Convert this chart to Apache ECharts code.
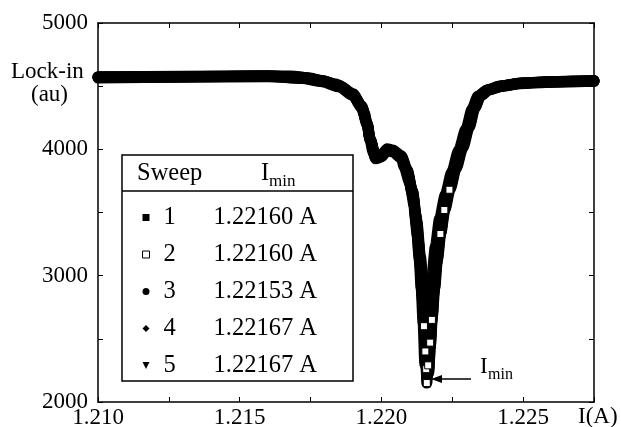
<!DOCTYPE html>
<html>
<head>
<meta charset="utf-8">
<script src="https://cdn.jsdelivr.net/npm/echarts@6/dist/echarts.min.js"></script>
<style>html,body{margin:0;padding:0;background:#fff;}#c{width:621px;height:427px;}</style>
</head>
<body>
<div id="c"></div>
<script>
// Tick ranges
const xMin = 1.210, xMax = 1.2275, xStep = 0.0025;
const yMin = 2000, yMax = 5000, yStep = 500;

// Legend table
const sweepNames = ['1', '2', '3', '4', '5'];
const iminValues = ['1.22160 A', '1.22160 A', '1.22153 A', '1.22167 A', '1.22167 A'];

// Sweep data: [current (A), lock-in (au)]
const sweep1 = [[1.2100,4573],[1.2118,4573],[1.2136,4576],[1.2154,4580],[1.2168,4580],[1.2175,4565],[1.2179,4541],[1.2184,4517],[1.2187,4478],[1.2190,4430],[1.2192,4367],[1.2194,4288],[1.2195,4193],[1.2196,4074],[1.2197,3979],[1.2198,3931],[1.2200,3947],[1.2202,3995],[1.2204,3987],[1.2207,3939],[1.2208,3860],[1.2210,3733],[1.22115,3559],[1.22126,3322],[1.22136,3084],[1.22143,2847],[1.2215,2609],[1.22156,2412],[1.2216,2180],[1.22168,2400],[1.22175,2600],[1.2218,2807],[1.22189,3045],[1.2220,3259],[1.22214,3480],[1.22231,3654],[1.22253,3836],[1.22277,3995],[1.22302,4169],[1.22323,4327],[1.22344,4422],[1.22372,4470],[1.22418,4501],[1.22489,4525],[1.22577,4533],[1.22665,4541],[1.2275,4541]];
const sweep2 = [[1.2100,4570],[1.2130,4575],[1.2160,4580],[1.2172,4570],[1.2179,4545],[1.2185,4505],[1.2190,4435],[1.2193,4340],[1.2195,4200],[1.2196,4080],[1.2198,3940],[1.2200,3950],[1.2202,3998],[1.2204,3990],[1.2207,3945],[1.2209,3830],[1.2211,3650],[1.22122,3480],[1.22132,3250],[1.22140,3000],[1.22146,2780],[1.22150,2600],[1.22155,2400],[1.22158,2260],[1.2216,2150],[1.22165,2290],[1.22172,2470],[1.22178,2650],[1.22186,2880],[1.22195,3100],[1.22208,3330],[1.22222,3520],[1.22240,3680],[1.22262,3850],[1.22285,4010],[1.22308,4180],[1.22328,4330],[1.22348,4425],[1.2238,4475],[1.2243,4505],[1.2250,4528],[1.2260,4535],[1.2275,4545]];
const sweep3 = [[1.2100,4565],[1.2130,4570],[1.2160,4575],[1.2172,4560],[1.2179,4535],[1.2185,4495],[1.2190,4425],[1.2193,4330],[1.2195,4190],[1.2196,4070],[1.2198,3925],[1.2200,3940],[1.2202,3990],[1.2204,3980],[1.2207,3930],[1.2209,3830],[1.2211,3640],[1.22123,3400],[1.22133,3140],[1.22140,2900],[1.22147,2620],[1.22153,2300],[1.22160,2500],[1.22168,2750],[1.22178,3000],[1.2219,3230],[1.22205,3450],[1.22225,3640],[1.22248,3820],[1.22272,3990],[1.22298,4160],[1.2232,4320],[1.2234,4420],[1.2237,4465],[1.2242,4498],[1.2249,4520],[1.2258,4530],[1.2275,4538]];
const sweep4 = [[1.2100,4575],[1.2130,4578],[1.2160,4582],[1.2172,4568],[1.2179,4545],[1.2185,4508],[1.2190,4440],[1.2193,4345],[1.2195,4205],[1.2196,4085],[1.2198,3935],[1.2200,3955],[1.2202,4005],[1.2204,3995],[1.2207,3950],[1.2209,3845],[1.2211,3670],[1.22125,3430],[1.22138,3150],[1.22148,2880],[1.22156,2620],[1.22162,2420],[1.22167,2230],[1.22172,2420],[1.22178,2640],[1.22185,2860],[1.22194,3090],[1.22206,3310],[1.2222,3500],[1.22238,3670],[1.2226,3840],[1.22283,4000],[1.22306,4170],[1.22326,4325],[1.22347,4420],[1.22375,4468],[1.2242,4500],[1.2249,4522],[1.2258,4532],[1.2275,4540]];
const sweep5 = [[1.2100,4570],[1.2130,4574],[1.2160,4578],[1.2172,4563],[1.2179,4540],[1.2185,4500],[1.2190,4432],[1.2193,4338],[1.2195,4198],[1.2196,4078],[1.2198,3930],[1.2200,3945],[1.2202,3993],[1.2204,3985],[1.2207,3940],[1.2209,3838],[1.2211,3660],[1.22124,3420],[1.22136,3150],[1.22146,2890],[1.22155,2640],[1.22161,2440],[1.22167,2260],[1.22173,2450],[1.2218,2680],[1.22188,2900],[1.22198,3130],[1.2221,3340],[1.22224,3520],[1.22242,3680],[1.22264,3850],[1.22287,4010],[1.2231,4175],[1.2233,4328],[1.2235,4423],[1.2238,4470],[1.2243,4502],[1.2250,4525],[1.2259,4535],[1.2275,4542]];

const FONT = '"Liberation Serif", "DejaVu Serif", serif';
const chart = echarts.init(document.getElementById('c'), null, {renderer: 'canvas'});

function mkSeries(name, data, symbol, size, itemStyle, symbolFn) {
  return {
    name: name, type: 'line', data: data,
    xAxisIndex: 0, yAxisIndex: 0,
    smooth: 0.25, smoothMonotone: 'x',
    clip: false,
    symbol: symbolFn || symbol, symbolSize: size,
    showSymbol: true, showAllSymbol: true,
    lineStyle: {color: '#000', width: 11, cap: 'round', join: 'round'},
    itemStyle: itemStyle,
    emphasis: {disabled: true},
    animation: false
  };
}
const black = {color: '#000'};
const openSq = {color: '#fff', borderColor: '#000', borderWidth: 1};
const triDown = 'path://M0,0 L10,0 L5,10 Z';

const series = [
  mkSeries('1', sweep1, 'rect', 7, black),
  mkSeries('3', sweep3, 'circle', 7, black),
  mkSeries('4', sweep4, 'diamond', 8, black),
  mkSeries('5', sweep5, triDown, 7, black),
  mkSeries('2', sweep2, 'rect', 7, openSq, function (v) {
    return (v[1] < 2700 || (v[0] > 1.2220 && v[1] < 3800)) ? 'rect' : 'none';
  })
];

const axisCommon = {
  type: 'value', scale: false,
  axisLine: {show: true, onZero: false, lineStyle: {color: '#000', width: 1.5}},
  axisTick: {show: true, inside: true, length: 5, lineStyle: {color: '#000', width: 1}},
  splitLine: {show: false}
};

const option = {
  backgroundColor: '#fff',
  animation: false,
  grid: {left: 98, right: 27, top: 23, bottom: 25, containLabel: false, outerBoundsMode: 'none'},
  xAxis: [
    Object.assign({}, axisCommon, {
      min: xMin, max: xMax, interval: xStep, position: 'bottom',
      axisLabel: {
        margin: 4, color: '#000', fontFamily: FONT, fontSize: 23,
        formatter: function (v) {
          const k = Math.round(v * 10000);
          return (k % 50 === 0 && k < 12270) ? v.toFixed(3) : '';
        }
      }
    }),
    Object.assign({}, axisCommon, {
      min: xMin, max: xMax, interval: xStep, position: 'top',
      axisLabel: {show: false}
    })
  ],
  yAxis: [
    Object.assign({}, axisCommon, {
      min: yMin, max: yMax, interval: yStep, position: 'left',
      axisLabel: {
        margin: 10, color: '#000', fontFamily: FONT, fontSize: 23,
        formatter: function (v) { return v % 1000 === 0 ? String(v) : ''; }
      }
    }),
    Object.assign({}, axisCommon, {
      min: yMin, max: yMax, interval: yStep, position: 'right',
      axisLabel: {show: false}
    })
  ],
  legend: {
    show: true, orient: 'vertical', left: 142, top: 205, padding: 0,
    itemWidth: 7, itemHeight: 7, itemGap: 12,
    selectedMode: false, z: 10,
    data: [
      {name: '1', icon: 'rect', itemStyle: black},
      {name: '2', icon: 'rect', itemStyle: openSq},
      {name: '3', icon: 'circle', itemStyle: black},
      {name: '4', icon: 'diamond', itemStyle: black},
      {name: '5', icon: triDown, itemStyle: black}
    ],
    formatter: function (name) {
      const i = sweepNames.indexOf(name);
      return '{n|' + name + '}{v|' + iminValues[i] + '}';
    },
    textStyle: {
      color: '#000', fontFamily: FONT, fontSize: 24.5,
      rich: {
        n: {fontFamily: FONT, fontSize: 24.5, color: '#000', width: 50, padding: [0, 0, 0, 9]},
        v: {fontFamily: FONT, fontSize: 24.5, color: '#000'}
      }
    }
  },
  graphic: [
    {type: 'rect', shape: {x: 122, y: 155, width: 231, height: 226}, style: {fill: '#fff', stroke: '#000', lineWidth: 1.5}, z: 3},
    {type: 'line', shape: {x1: 122, y1: 191, x2: 353, y2: 191}, style: {stroke: '#000', lineWidth: 1.5}, z: 4},
    {type: 'text', left: 137, top: 161, style: {text: 'Sweep', font: '24.5px ' + FONT, fill: '#000'}, z: 5},
    {type: 'text', left: 261, top: 161, style: {text: 'I', font: '24.5px ' + FONT, fill: '#000'}, z: 5},
    {type: 'text', left: 269, top: 173, style: {text: 'min', font: '17px ' + FONT, fill: '#000'}, z: 5},
    {type: 'text', left: 11, top: 60, style: {text: 'Lock-in', font: '23px ' + FONT, fill: '#000'}, z: 5},
    {type: 'text', left: 31, top: 83, style: {text: '(au)', font: '23px ' + FONT, fill: '#000'}, z: 5},
    {type: 'text', left: 578, top: 405, style: {text: 'I(A)', font: '23px ' + FONT, fill: '#000'}, z: 5},
    {type: 'line', shape: {x1: 438, y1: 379, x2: 471, y2: 379}, style: {stroke: '#000', lineWidth: 1.5}, z: 5},
    {type: 'polygon', shape: {points: [[431, 379], [442, 375], [442, 383]]}, style: {fill: '#000'}, z: 5},
    {type: 'text', left: 480, top: 355, style: {text: 'I', font: '23px ' + FONT, fill: '#000'}, z: 5},
    {type: 'text', left: 488, top: 367, style: {text: 'min', font: '16px ' + FONT, fill: '#000'}, z: 5}
  ],
  series: series
};
chart.setOption(option);
</script>
</body>
</html>
